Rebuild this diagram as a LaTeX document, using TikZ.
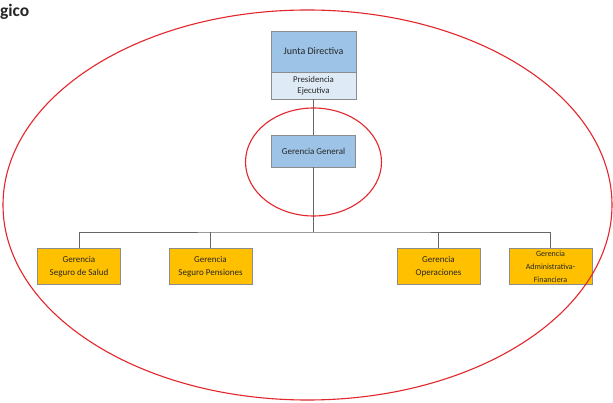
\documentclass[tikz,border=0pt]{standalone}
\usepackage{fontspec}
\setmainfont{Carlito}
\begin{document}
\begin{tikzpicture}[x=1pt,y=-1pt,
  every node/.style={inner sep=0pt, outer sep=0pt},
  boxframe/.style={draw=black!45, line width=0.5pt, align=center, font=\fontsize{9}{12.5}\selectfont, text=black!85},
  bluebox/.style={boxframe, fill=blue1},
  orangebox/.style={boxframe, fill=orange1, minimum width=83pt, minimum height=36pt},
  link/.style={draw=black!60, line width=0.5pt},
  ring/.style={draw=red1, line width=1.1pt}]
\definecolor{blue1}{HTML}{9DC3E6}
\definecolor{blue2}{HTML}{DEEBF7}
\definecolor{orange1}{HTML}{FFC000}
\definecolor{red1}{HTML}{E3262B}
\useasboundingbox (0,0) rectangle (613,403);
\fill[white] (0,0) rectangle (613,403);

% heading fragment
\node[anchor=north west, font=\bfseries\fontsize{17.5}{19}\selectfont, text=black!85] (title) at (0,4) {gico};

% board and presidency
\node[bluebox, minimum width=85pt, minimum height=41pt, font=\fontsize{10}{12}\selectfont] (junta) at (313.5,51.5) {\raisebox{-3pt}{Junta Directiva}};
\node[boxframe, fill=blue2, minimum width=85pt, minimum height=27pt, anchor=north, font=\fontsize{8.8}{11}\selectfont] (pres) at (junta.south) {Presidencia\\Ejecutiva};

% general management
\node[bluebox, minimum width=84pt, minimum height=32pt] (gg) at (313.5,151) {Gerencia General};

% departments
\node[orangebox] (salud) at (79,266.5) {Gerencia\\Seguro de Salud};
\node[orangebox] (pens) at (210.5,266.5) {Gerencia\\Seguro Pensiones};
\node[orangebox] (oper) at (438.5,266.5) {Gerencia\\Operaciones};
\node[orangebox, font=\fontsize{8}{13}\selectfont] (adm) at (550.5,266.5) {Gerencia\\Administrativa-\\Financiera};

% connectors
\coordinate (bus) at (313.5,232);
\draw[link] (pres.south) -- (gg.north);
\draw[link] (gg.south) -- (bus);
\draw[link] (salud.north) |- (bus) -| (adm.north);
\draw[link] (pens.north) -- (pens.north |- bus);
\draw[link] (oper.north) -- (oper.north |- bus);

% highlight rings
\draw[ring] (307.5,205) ellipse [x radius=304.5, y radius=195];
\draw[ring] (313.5,162) ellipse [x radius=68, y radius=54];
\end{tikzpicture}
\end{document}
